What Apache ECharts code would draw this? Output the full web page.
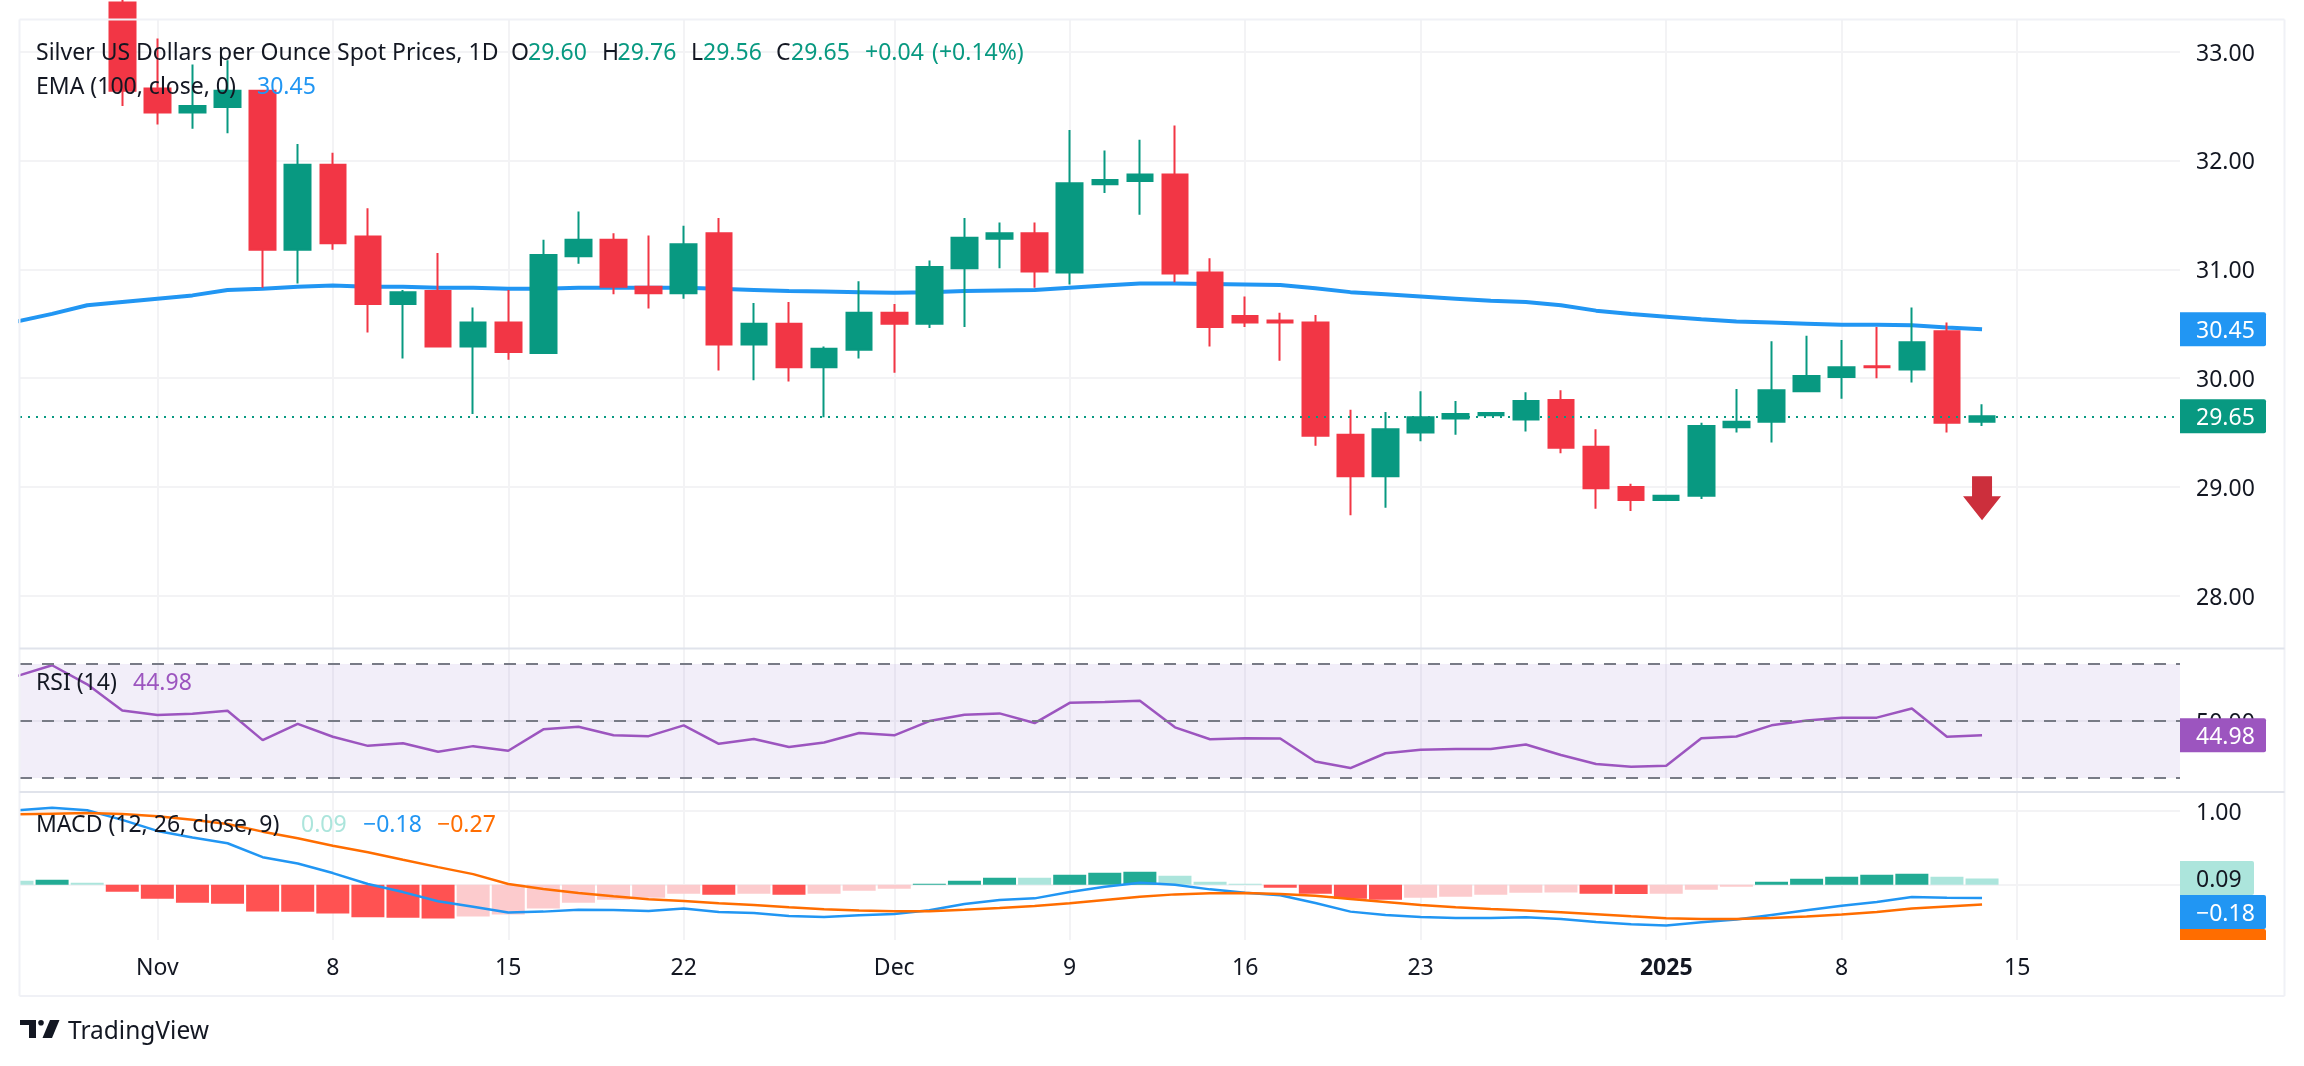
<!DOCTYPE html>
<html>
<head>
<meta charset="utf-8">
<title>Silver spot prices</title>
<script src="https://cdn.jsdelivr.net/npm/echarts@6/dist/echarts.min.js"></script>
<style>
    html, body { margin: 0; padding: 0; background: #fff; }
    #chart { width: 2304px; height: 1066px; }
</style>
</head>
<body>
<div id="chart"></div>
<script>
// bars are numbered by trading day, 0 is the first one on the left edge
const tickDays = [4, 9, 14, 19, 25, 30, 35, 40, 47, 52, 57];
const tickLabels = ['Nov', '8', '15', '22', 'Dec', '9', '16', '23', '2025', '8', '15'];
const priceTicks = [28, 29, 30, 31, 32, 33];
const rsiTicks = [50];
const macdTicks = [0, 1];
const rsiBands = [70, 50, 30];

// the first bars lie above the visible range, the candles start at day 3
const candleStart = 3;
// open, close, low, high
const candles = [
    [33.45, 32.64, 32.50, 33.60], [32.66, 32.44, 32.33, 33.12], [32.44, 32.50, 32.29, 32.88],
    [32.49, 32.64, 32.25, 32.92], [32.64, 31.18, 30.83, 32.64], [31.18, 31.96, 30.87, 32.15],
    [31.96, 31.24, 31.18, 32.07], [31.30, 30.68, 30.42, 31.56], [30.68, 30.79, 30.18, 30.81],
    [30.80, 30.29, 30.29, 31.15], [30.29, 30.51, 29.67, 30.65], [30.51, 30.24, 30.17, 30.81],
    [30.23, 31.13, 30.23, 31.27], [31.12, 31.27, 31.05, 31.53], [31.27, 30.84, 30.77, 31.33],
    [30.84, 30.78, 30.64, 31.31], [30.78, 31.23, 30.73, 31.40], [31.33, 30.31, 30.07, 31.47],
    [30.31, 30.50, 29.98, 30.69], [30.50, 30.10, 29.97, 30.70], [30.10, 30.27, 29.64, 30.29],
    [30.26, 30.60, 30.18, 30.89], [30.60, 30.50, 30.05, 30.68], [30.50, 31.02, 30.46, 31.08],
    [31.01, 31.29, 30.47, 31.47], [31.28, 31.33, 31.01, 31.43], [31.33, 30.98, 30.83, 31.43],
    [30.97, 31.79, 30.86, 32.28], [31.78, 31.82, 31.70, 32.09], [31.81, 31.87, 31.50, 32.19],
    [31.87, 30.96, 30.88, 32.32], [30.97, 30.47, 30.29, 31.10], [30.57, 30.51, 30.47, 30.75],
    [30.53, 30.51, 30.16, 30.60], [30.51, 29.47, 29.38, 30.58], [29.48, 29.10, 28.74, 29.71],
    [29.10, 29.53, 28.81, 29.69], [29.50, 29.64, 29.42, 29.88], [29.63, 29.67, 29.48, 29.79],
    [29.66, 29.68, 29.66, 29.68], [29.62, 29.79, 29.51, 29.87], [29.80, 29.36, 29.31, 29.89],
    [29.37, 28.99, 28.80, 29.53], [29.00, 28.88, 28.78, 29.03], [28.88, 28.92, 28.88, 28.92],
    [28.92, 29.56, 28.89, 29.59], [29.55, 29.60, 29.50, 29.90], [29.60, 29.89, 29.41, 30.34],
    [29.88, 30.02, 29.88, 30.39], [30.01, 30.10, 29.81, 30.35], [30.11, 30.10, 30.00, 30.47],
    [30.08, 30.33, 29.96, 30.65], [30.43, 29.59, 29.50, 30.51], [29.60, 29.65, 29.56, 29.76]
];
const ema = [
    30.52, 30.59, 30.67, 30.70, 30.73, 30.76, 30.81, 30.82, 30.84, 30.85,
    30.84, 30.84, 30.83, 30.83, 30.82, 30.82, 30.83, 30.83, 30.83, 30.83,
    30.82, 30.81, 30.80, 30.795, 30.79, 30.785, 30.79, 30.80, 30.805, 30.81,
    30.83, 30.85, 30.87, 30.87, 30.865, 30.86, 30.855, 30.825, 30.79, 30.77,
    30.75, 30.73, 30.71, 30.70, 30.67, 30.62, 30.59, 30.565, 30.54, 30.52,
    30.51, 30.50, 30.49, 30.49, 30.485, 30.465, 30.45
];
const rsi = [
    65.8, 69.6, 62.9, 53.7, 52.1, 52.6, 53.6, 43.3, 49.0, 44.5,
    41.3, 42.2, 39.2, 41.2, 39.6, 47.1, 48.0, 45.0, 44.7, 48.5,
    42.0, 43.7, 40.9, 42.5, 45.8, 45.0, 50.0, 52.2, 52.7, 49.3,
    56.4, 56.7, 57.1, 47.8, 43.6, 44.0, 43.9, 35.8, 33.5, 38.7,
    39.9, 40.2, 40.2, 41.8, 38.1, 34.9, 34.0, 34.3, 44.0, 44.6,
    48.5, 50.2, 51.2, 51.2, 54.4, 44.5, 44.98
];
const macdLine = [
    1.01, 1.045, 1.01, 0.88, 0.73, 0.64, 0.563, 0.374, 0.288, 0.158,
    0.009, -0.10, -0.225, -0.30, -0.378, -0.365, -0.338, -0.342, -0.356, -0.324,
    -0.369, -0.383, -0.423, -0.437, -0.414, -0.396, -0.347, -0.261, -0.207, -0.185,
    -0.099, -0.027, 0.027, 0.0, -0.063, -0.108, -0.144, -0.248, -0.365, -0.41,
    -0.437, -0.45, -0.45, -0.441, -0.464, -0.505, -0.536, -0.554, -0.509, -0.473,
    -0.41, -0.347, -0.284, -0.234, -0.167, -0.176, -0.18
];
const signalLine = [
    0.955, 0.964, 0.973, 0.96, 0.928, 0.883, 0.824, 0.72, 0.63, 0.53,
    0.441, 0.338, 0.239, 0.144, 0.009, -0.059, -0.113, -0.158, -0.198, -0.221,
    -0.252, -0.275, -0.306, -0.333, -0.351, -0.36, -0.36, -0.338, -0.315, -0.288,
    -0.252, -0.207, -0.162, -0.131, -0.117, -0.113, -0.126, -0.149, -0.194, -0.234,
    -0.275, -0.306, -0.329, -0.351, -0.374, -0.40, -0.428, -0.455, -0.464, -0.464,
    -0.45, -0.432, -0.405, -0.369, -0.324, -0.297, -0.27
];
const histogram = [
    0.054, 0.068, 0.027, -0.095, -0.19, -0.243, -0.257, -0.365, -0.368, -0.392,
    -0.443, -0.447, -0.459, -0.432, -0.405, -0.324, -0.243, -0.203, -0.176, -0.122,
    -0.135, -0.122, -0.135, -0.122, -0.081, -0.054, 0.014, 0.054, 0.095, 0.093,
    0.135, 0.162, 0.176, 0.122, 0.041, 0.014, -0.041, -0.122, -0.19, -0.203,
    -0.176, -0.162, -0.135, -0.108, -0.106, -0.122, -0.125, -0.122, -0.068, -0.027,
    0.041, 0.081, 0.108, 0.135, 0.149, 0.108, 0.085
];
const lastBar = ['29.60', '29.76', '29.56', '29.65'];
const lastChange = ['+0.04', '(+0.14%)'];
const lastPrice = 29.65;
const lastEma = 30.45;
const lastRsi = 44.98;
const lastMacd = [0.09, -0.18, -0.27];

const FONT = '"Noto Sans", sans-serif';
const FONT_SIZE = 23;
const TEXT = '#131722';
const GREEN = '#089981';
const RED = '#f23645';
const BLUE = '#2196f3';
const ORANGE = '#ff6d00';
const PURPLE = '#9c55bf';
const GRID_COLOR = '#f3f3f5';

// x = 17 + 35.09 * day, the panes run from x=20 to x=2180
const xMin = (20 - 17) / 35.09;
const xMax = (2180 - 17) / 35.09;

function pairs(values) {
    return values.map(function (v, i) { return [i, v]; });
}

function xAxisFor(gridIndex, showLabels) {
    return {
        type: 'value',
        gridIndex: gridIndex,
        min: xMin,
        max: xMax,
        axisLine: { show: false },
        axisTick: { show: false, customValues: tickDays },
        splitLine: { show: true, customValues: tickDays, lineStyle: { color: GRID_COLOR, width: 2 } },
        axisLabel: {
            show: showLabels,
            customValues: tickDays,
            margin: 17,
            fontFamily: FONT,
            fontSize: FONT_SIZE,
            color: TEXT,
            formatter: function (v) {
                const label = tickLabels[tickDays.indexOf(v)];
                return label === '2025' ? '{b|2025}' : label;
            },
            rich: { b: { fontFamily: FONT, fontSize: FONT_SIZE, fontWeight: 'bold', color: TEXT } }
        }
    };
}

function yAxisFor(gridIndex, min, max, ticks) {
    return {
        type: 'value',
        gridIndex: gridIndex,
        position: 'right',
        min: min,
        max: max,
        axisLine: { show: false },
        axisTick: { show: false, customValues: ticks },
        splitLine: { show: true, customValues: ticks, lineStyle: { color: GRID_COLOR, width: 2 } },
        axisLabel: {
            customValues: ticks,
            margin: 16,
            formatter: function (v) { return '{t|' + v.toFixed(2) + '}'; },
            // the padding sets the digits a little under the grid line
            rich: { t: { fontFamily: FONT, fontSize: FONT_SIZE, color: TEXT, padding: [5, 0, 0, 0] } }
        }
    };
}

const chart = echarts.init(document.getElementById('chart'));

chart.setOption({
    animation: false,
    backgroundColor: '#fff',
    grid: [
        { left: 20, width: 2160, top: 20, height: 628 },
        { left: 20, width: 2160, top: 649, height: 143 },
        { left: 20, width: 2160, top: 792, height: 148 }
    ],
    xAxis: [xAxisFor(0, false), xAxisFor(1, false), xAxisFor(2, true)],
    yAxis: [
        yAxisFor(0, 27.522, 33.289, priceTicks),
        yAxisFor(1, 25.1, 75.3, rsiTicks),
        yAxisFor(2, -0.75, 1.258, macdTicks)
    ],
    series: [
        {
            name: 'EMA',
            type: 'line',
            xAxisIndex: 0,
            yAxisIndex: 0,
            data: pairs(ema),
            symbol: 'none',
            z: 2,
            lineStyle: { color: BLUE, width: 4 }
        },
        {
            name: 'Silver',
            type: 'candlestick',
            xAxisIndex: 0,
            yAxisIndex: 0,
            barWidth: 26,
            z: 3,
            encode: { x: 0, y: [1, 2, 3, 4] },
            data: candles.map(function (c, i) { return [i + candleStart].concat(c); }),
            itemStyle: { color: GREEN, color0: RED, borderColor: GREEN, borderColor0: RED, borderWidth: 2 },
            markLine: {
                silent: true,
                symbol: 'none',
                label: { show: false },
                lineStyle: { color: GREEN, type: [2, 6], width: 2 },
                data: [{ yAxis: lastPrice }]
            }
        },
        {
            name: 'RSI',
            type: 'line',
            xAxisIndex: 1,
            yAxisIndex: 1,
            data: pairs(rsi),
            symbol: 'none',
            lineStyle: { color: PURPLE, width: 2.5 },
            markArea: {
                silent: true,
                itemStyle: { color: 'rgba(126,87,194,0.1)' },
                data: [[{ yAxis: rsiBands[0] }, { yAxis: rsiBands[2] }]]
            },
            markLine: {
                silent: true,
                symbol: 'none',
                label: { show: false },
                lineStyle: { color: '#787b86', type: [12, 10], width: 2 },
                data: rsiBands.map(function (v) { return { yAxis: v }; })
            }
        },
        {
            name: 'Histogram',
            type: 'bar',
            xAxisIndex: 2,
            yAxisIndex: 2,
            barWidth: 33,
            data: histogram.map(function (v, i) {
                const prev = i > 0 ? histogram[i - 1] : v;
                let color;
                if (v >= 0) {
                    color = v > prev ? '#22ab94' : '#ace5dc';
                } else {
                    color = v < prev ? '#ff5252' : '#fccbcd';
                }
                return { value: [i, v], itemStyle: { color: color } };
            })
        },
        {
            name: 'MACD',
            type: 'line',
            xAxisIndex: 2,
            yAxisIndex: 2,
            data: pairs(macdLine),
            symbol: 'none',
            lineStyle: { color: BLUE, width: 2.5 }
        },
        {
            name: 'Signal',
            type: 'line',
            xAxisIndex: 2,
            yAxisIndex: 2,
            data: pairs(signalLine),
            symbol: 'none',
            lineStyle: { color: ORANGE, width: 2.5 }
        }
    ]
});

function label(x, y, text, color, size) {
    return {
        type: 'text',
        z: 100,
        x: x,
        y: y,
        silent: true,
        style: { text: text, fill: color, font: (size || FONT_SIZE) + 'px ' + FONT, verticalAlign: 'middle' }
    };
}

function line(x1, y1, x2, y2, color, width) {
    return {
        type: 'line',
        z: 90,
        silent: true,
        shape: { x1: x1, y1: y1, x2: x2, y2: y2 },
        style: { stroke: color, lineWidth: width }
    };
}

// price tag in the axis column, centred on y
function badge(y, text, bg, fg, w, h) {
    const height = h || 34;
    return [
        {
            type: 'rect',
            z: 95,
            silent: true,
            shape: { x: 2180, y: y - height / 2, width: w || 86, height: height, r: [0, 2, 2, 0] },
            style: { fill: bg }
        },
        label(2196, y + 2.5, text, fg)
    ];
}

const priceY = function (v) { return chart.convertToPixel({ yAxisIndex: 0 }, v); };
const rsiY = function (v) { return chart.convertToPixel({ yAxisIndex: 1 }, v); };
const macdY = function (v) { return chart.convertToPixel({ yAxisIndex: 2 }, v); };

// tags stack under each other when their values are close
const macdFirstY = macdY(lastMacd[0]);

// arrow hangs under the last bar
const arrowX = chart.convertToPixel({ xAxisIndex: 0 }, histogram.length - 1);
const arrowTop = priceY(29.10);

const overlays = [
    // bars on a value axis are not cut at the pane edge, so cover the overhang of the first one
    {
        type: 'rect',
        z: 85,
        silent: true,
        shape: { x: 0, y: 792, width: 19, height: 148 },
        style: { fill: '#fff' }
    },
    line(19.5, 19.5, 2284.5, 19.5, '#f0f1f6', 2),
    line(19.5, 19.5, 19.5, 996, '#f0f1f6', 2),
    line(2284.5, 19.5, 2284.5, 996, '#f0f1f6', 2),
    line(19.5, 996, 2284.5, 996, '#f0f1f6', 2),
    line(19.5, 648.5, 2284.5, 648.5, '#e0e3eb', 2),
    line(19.5, 792, 2284.5, 792, '#e0e3eb', 2),

    label(36, 53, 'Silver US Dollars per Ounce Spot Prices, 1D', TEXT),
    label(511, 53, 'O', TEXT), label(528, 53, lastBar[0], GREEN),
    label(602, 53, 'H', TEXT), label(617.5, 53, lastBar[1], GREEN),
    label(691, 53, 'L', TEXT), label(703, 53, lastBar[2], GREEN),
    label(776, 53, 'C', TEXT), label(791, 53, lastBar[3], GREEN),
    label(865, 53, lastChange[0], GREEN), label(932, 53, lastChange[1], GREEN),
    label(36, 87, 'EMA (100, close, 0)', TEXT), label(257, 87, lastEma.toFixed(2), BLUE),
    label(36, 683, 'RSI (14)', TEXT), label(133, 683, lastRsi.toFixed(2), PURPLE),
    label(36, 825, 'MACD (12, 26, close, 9)', TEXT),
    label(301, 825, lastMacd[0].toFixed(2), '#ace5dc'),
    label(363, 825, '\u2212' + Math.abs(lastMacd[1]).toFixed(2), BLUE),
    label(437, 825, '\u2212' + Math.abs(lastMacd[2]).toFixed(2), ORANGE),

    // down arrow
    {
        type: 'polygon',
        z: 80,
        silent: true,
        shape: {
            points: [
                [arrowX - 10, arrowTop], [arrowX + 10, arrowTop], [arrowX + 10, arrowTop + 20],
                [arrowX + 19, arrowTop + 20], [arrowX, arrowTop + 44], [arrowX - 19, arrowTop + 20],
                [arrowX - 10, arrowTop + 20]
            ]
        },
        style: { fill: '#cc2f3c' }
    },

    // TradingView logo
    {
        type: 'polygon', z: 90, silent: true,
        shape: { points: [[20, 1020], [36, 1020], [36, 1038], [29, 1038], [29, 1025], [20, 1025]] },
        style: { fill: TEXT }
    },
    { type: 'circle', z: 90, silent: true, shape: { cx: 41, cy: 1022.7, r: 2.8 }, style: { fill: TEXT } },
    {
        type: 'polygon', z: 90, silent: true,
        shape: { points: [[50, 1020], [59.5, 1020], [52, 1038], [42.5, 1038]] },
        style: { fill: TEXT }
    },
    label(68, 1032, 'TradingView', TEXT, 24.5)
].concat(
    badge(priceY(lastEma), lastEma.toFixed(2), BLUE, '#fff'),
    badge(priceY(lastPrice), lastPrice.toFixed(2), GREEN, '#fff'),
    badge(rsiY(lastRsi), lastRsi.toFixed(2), PURPLE, '#fff'),
    badge(macdFirstY, lastMacd[0].toFixed(2), '#ace5dc', TEXT, 74),
    badge(macdFirstY + 34, '\u2212' + Math.abs(lastMacd[1]).toFixed(2), BLUE, '#fff'),
    // only the top of this tag shows, it is cut off at the pane bottom
    {
        type: 'rect',
        z: 94,
        silent: true,
        shape: { x: 2180, y: macdFirstY + 51, width: 86, height: 940 - (macdFirstY + 51), r: [0, 2, 0, 0] },
        style: { fill: ORANGE }
    }
);

chart.setOption({ graphic: { elements: overlays } });
</script>
</body>
</html>
